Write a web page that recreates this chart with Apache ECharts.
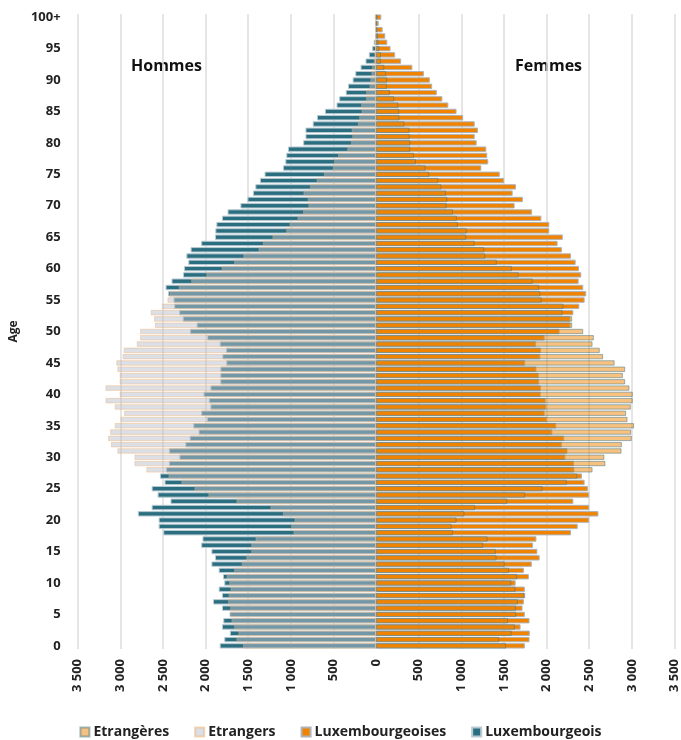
<!DOCTYPE html>
<html>
<head>
<meta charset="utf-8">
<script src="https://cdn.jsdelivr.net/npm/echarts@6/dist/echarts.min.js"></script>
<style>
  html, body { margin: 0; padding: 0; background: #fff; }
  #chart { width: 681px; height: 740px; }
</style>
</head>
<body>
<div id="chart"></div>
<script>
// ages 0 .. 99, then 100+
const ages = Array.from({ length: 100 }, (_, i) => String(i)).concat(['100+'])

// hommes
const luxHommes = [
  1834, 1780, 1715, 1807, 1792, 1718, 1807, 1912, 1807, 1846,
  1780, 1796, 1846, 1931, 1889, 1931, 2051, 2036, 2496, 2550,
  2550, 2794, 2632, 2411, 2562, 2632, 2481, 2535, 2465, 2430,
  2307, 2430, 2237, 2187, 2082, 2144, 1985, 2051, 1943, 1962,
  2024, 1943, 1827, 1827, 1827, 1757, 1803, 1761, 1834, 1981,
  2183, 2105, 2268, 2310, 2368, 2376, 2438, 2469, 2399, 2264,
  2252, 2202, 2225, 2175, 2051, 1889, 1885, 1873, 1807, 1742,
  1591, 1509, 1444, 1416, 1362, 1308, 1091, 1064, 1053, 1033,
  855, 828, 828, 743, 693, 600, 464, 433, 356, 329,
  275, 244, 182, 124, 85, 46, 27, 12, 10, 8,
  15
]
const etrHommes = [
  1560, 1637, 1614, 1664, 1695, 1703, 1711, 1734, 1730, 1707,
  1722, 1753, 1664, 1575, 1521, 1463, 1463, 1413, 968, 995,
  956, 1091, 1238, 1637, 1966, 2129, 2283, 2434, 2694, 2833,
  2833, 3034, 3108, 3142, 3119, 3065, 2995, 2957, 3065, 3173,
  3007, 3173, 3007, 3007, 3034, 3046, 2972, 2960, 2806, 2767,
  2767, 2593, 2604, 2643, 2508, 2446, 2419, 2314, 2167, 1989,
  1811, 1664, 1556, 1378, 1327, 1215, 1053, 1014, 921, 855,
  793, 801, 851, 774, 697, 611, 507, 491, 445, 337,
  294, 279, 286, 213, 197, 170, 174, 116, 116, 77,
  66, 54, 46, 27, 20, 12, 8, 5, 3, 3,
  8
]

// femmes
const luxFemmes = [
  1745, 1800, 1803, 1695, 1800, 1745, 1718, 1734, 1749, 1745,
  1637, 1792, 1734, 1827, 1919, 1892, 1842, 1881, 2287, 2365,
  2500, 2608, 2500, 2314, 2500, 2485, 2446, 2415, 2326, 2322,
  2221, 2245, 2179, 2206, 2067, 2113, 2005, 1977, 1997, 1989,
  1931, 1935, 1912, 1908, 1881, 1749, 1927, 1935, 1877, 1977,
  2152, 2280, 2280, 2314, 2384, 2446, 2465, 2430, 2376, 2407,
  2380, 2341, 2287, 2179, 2129, 2190, 2032, 2032, 1939, 1830,
  1625, 1722, 1602, 1641, 1502, 1451, 1235, 1316, 1304, 1293,
  1180, 1157, 1196, 1157, 1022, 944, 848, 778, 712, 658,
  631, 561, 426, 294, 224, 170, 132, 108, 77, 31,
  62
]
const etrFemmes = [
  1525, 1444, 1591, 1629, 1548, 1645, 1641, 1664, 1741, 1637,
  1587, 1656, 1560, 1509, 1413, 1405, 1258, 1308, 902, 886,
  944, 1037, 1161, 1540, 1749, 1954, 2237, 2361, 2539, 2690,
  2678, 2879, 2883, 2999, 2992, 3026, 2949, 2933, 2988, 3011,
  3011, 2972, 2922, 2895, 2922, 2798, 2663, 2624, 2539, 2554,
  2430, 2300, 2300, 2187, 2198, 1943, 1927, 1912, 1838, 1672,
  1594, 1416, 1281, 1269, 1157, 1057, 1064, 960, 948, 902,
  828, 836, 820, 766, 731, 623, 581, 468, 445, 402,
  402, 395, 391, 333, 275, 271, 263, 213, 163, 128,
  132, 120, 97, 58, 58, 39, 30, 25, 15, 8,
  15
]

const font = '"Open Sans", "DejaVu Sans", sans-serif'

function fmt(v){
  let s = String(Math.abs(v))
  return s.replace(/\B(?=(\d{3})+(?!\d))/g, ' ')
}

let myChart = echarts.init(document.getElementById('chart'))

let barBase = {
  type: 'bar',
  barGap: '-100%',
  barWidth: '86%',
  animation: false
}

let option = {
  backgroundColor: '#fff',
  textStyle: { fontFamily: font },
  grid: { left: 72, right: 5, top: 14, bottom: 91 },
  graphic: [
    { type: 'text', left: 131, top: 58, style: { text: 'Hommes', font: 'bold 16px ' + font, fill: '#111' } },
    { type: 'text', left: 515, top: 58, style: { text: 'Femmes', font: 'bold 16px ' + font, fill: '#111' } }
  ],
  legend: {
    bottom: -4,
    left: 'center',
    icon: 'rect',
    itemWidth: 9,
    itemHeight: 9,
    itemGap: 25,
    textStyle: { fontFamily: font, fontSize: 14, fontWeight: 'bold', color: '#222', padding: [0, 0, 0, -1] },
    data: ['Etrangères', 'Etrangers', 'Luxembourgeoises', 'Luxembourgeois']
  },
  xAxis: {
    type: 'value',
    min: -3500,
    max: 3500,
    interval: 500,
    axisLine: { show: false },
    axisTick: { show: false },
    splitLine: { lineStyle: { color: '#DCDCDC', width: 1.5 } },
    axisLabel: {
      rotate: 90,
      margin: 10,
      fontFamily: font,
      fontSize: 13,
      fontWeight: 'bold',
      color: '#222',
      formatter: fmt
    }
  },
  yAxis: {
    type: 'category',
    data: ages,
    name: 'Age',
    nameLocation: 'middle',
    nameGap: 50,
    nameRotate: 90,
    nameTextStyle: { fontFamily: font, fontSize: 12, fontWeight: 'bold', color: '#222' },
    axisLine: { show: false },
    axisTick: { show: false },
    axisLabel: {
      interval: 4,
      margin: 17,
      fontFamily: font,
      fontSize: 13,
      fontWeight: 'bold',
      color: '#222'
    }
  },
  series: [
    Object.assign({}, barBase, {
      name: 'Luxembourgeois',
      data: luxHommes.map(v => -v),
      itemStyle: { color: '#2A6E80', borderColor: '#B8CAD2', borderWidth: 1 }
    }),
    Object.assign({}, barBase, {
      name: 'Etrangers',
      data: etrHommes.map(v => -v),
      itemStyle: { color: 'rgb(186,192,204)', borderColor: '#F0B070', borderWidth: 0.8, opacity: 0.5 }
    }),
    Object.assign({}, barBase, {
      name: 'Luxembourgeoises',
      data: luxFemmes,
      itemStyle: { color: '#F08300', borderColor: '#AEB4BA', borderWidth: 1 }
    }),
    Object.assign({}, barBase, {
      name: 'Etrangères',
      data: etrFemmes,
      itemStyle: { color: '#F08300', borderColor: '#3F7686', borderWidth: 1, opacity: 0.5 }
    })
  ]
}

myChart.setOption(option)
</script>
</body>
</html>
